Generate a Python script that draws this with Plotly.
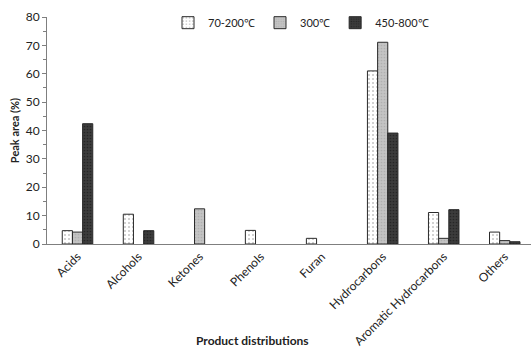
import plotly.graph_objects as go

# Product classes identified at each pyrolysis temperature range
categories = ["Acids", "Alcohols", "Ketones", "Phenols", "Furan",
              "Hydrocarbons", "Aromatic Hydrocarbons", "Others"]
series_names = ["70-200\u2103", "300\u2103", "450-800\u2103"]
# None marks a class that was not detected in that range
low_temp = [4.7, 10.5, None, 4.8, 2.0, 61.0, 11.1, 4.2]
mid_temp = [4.2, None, 12.4, None, None, 71.1, 2.0, 1.2]
high_temp = [42.4, 4.7, None, None, None, 39.1, 12.1, 0.8]

FONT = "Lato, 'Open Sans', sans-serif"

styles = [
    dict(bg="#ffffff", fg="#c4c4c4", size=4, solidity=0.2),
    dict(bg="#c4c4c4", fg="#b0b0b0", size=3, solidity=0.25),
    dict(bg="#3c3c3c", fg="#262626", size=3, solidity=0.25),
]

fig = go.Figure()
for name, vals, st in zip(series_names, [low_temp, mid_temp, high_temp], styles):
    fig.add_trace(go.Bar(
        x=categories, y=vals, name=name,
        marker=dict(
            color=st["bg"],
            line=dict(color="#2a2a2a", width=1),
            pattern=dict(shape=".", bgcolor=st["bg"], fgcolor=st["fg"],
                         size=st["size"], solidity=st["solidity"],
                         fillmode="replace"),
        ),
    ))

fig.update_layout(
    width=531, height=351,
    margin=dict(l=47, r=0, t=17, b=107),
    paper_bgcolor="white", plot_bgcolor="white",
    barmode="group", bargap=0.5, bargroupgap=0,
    font=dict(family=FONT, size=12, color="#222222"),
    showlegend=True,
    legend=dict(orientation="h", x=0.25, y=0.975, xanchor="left", yanchor="middle",
                font=dict(size=11, color="#222222"), bgcolor="rgba(0,0,0,0)",
                itemwidth=30),
    xaxis=dict(
        range=[-0.5, 7.43], showline=True, linecolor="#7f7f7f", linewidth=1,
        ticks="", tickangle=-45, showgrid=False, zeroline=False,
        tickfont=dict(size=12),
    ),
    yaxis=dict(
        range=[0, 80], dtick=10, showline=True, linecolor="#7f7f7f", linewidth=1,
        ticks="outside", ticklen=4, tickcolor="#7f7f7f", showgrid=False,
        zeroline=False, tickfont=dict(size=12),
        minor=dict(dtick=5, ticks="outside", ticklen=3, tickcolor="#7f7f7f"),
        title=dict(text="<b>Peak area (%)</b>", font=dict(size=11), standoff=3),
    ),
    annotations=[dict(
        text="<b>Product distributions</b>", xref="paper", yref="paper",
        x=0.4256, y=-0.469, xanchor="center", yanchor="bottom",
        showarrow=False, font=dict(size=12, color="#222222"),
    )],
)

fig.write_html("out.html")
